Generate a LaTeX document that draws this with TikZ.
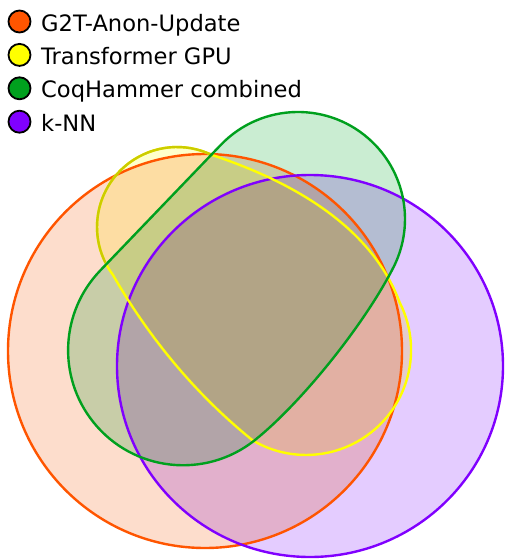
\documentclass[tikz,border=0pt]{standalone}
\usepackage{fontspec}
\setmainfont{DejaVu Sans}
\definecolor{cO}{RGB}{255,85,0}
\definecolor{cY}{RGB}{255,255,0}
\definecolor{cYd}{RGB}{204,204,0}
\definecolor{cG}{RGB}{0,160,30}
\definecolor{cP}{RGB}{128,0,255}
\definecolor{tO}{RGB}{253,221,204}
\definecolor{tY}{RGB}{255,255,204}
\definecolor{tG}{RGB}{202,237,210}
\definecolor{tP}{RGB}{228,204,255}
\tikzset{
  opath/.style={insert path={(205,351) circle[radius=197]}},
  ppath/.style={insert path={(310,366) ellipse[x radius=193, y radius=191]}},
  ypath/.style={insert path={(212,155) .. controls (288.0,180.1) and (370.7,224.3) .. (399.6,302.3)
     arc[start angle=333, end angle=480.5, radius=105]
     .. controls (195.8,394.5) and (149.2,338.1) .. (112.8,274.7)
     arc[start angle=143.4, end angle=295.9, radius=80] -- cycle}},
  gpath/.style={insert path={(220.9,144.8)
     arc[start angle=223.9, end angle=388.2, radius=107]
     .. controls (362.3,327.3) and (300.3,403.7) .. (255,440)
     arc[start angle=51.3, end angle=223.9, radius=115] -- cycle}},
  setline/.style={line width=2.4pt},
  legdot/.style={draw=black, line width=1.8pt},
  legtext/.style={anchor=base west, inner sep=0pt, font=\fontsize{22.6}{26}\selectfont}
}
\begin{document}
\begin{tikzpicture}[x=1pt, y=-1pt]
\useasboundingbox (0,0) rectangle (506,559);
% fills
\fill[tO, blend mode=multiply, opath];
\fill[tY, blend mode=multiply, ypath];
\fill[tG, blend mode=multiply, gpath];
\fill[tP, blend mode=multiply, ppath];
% outlines
\draw[cO, setline, opath];
\draw[cP, setline, ppath];
\draw[cY, setline, ypath];
\begin{scope}
  \clip (0,0) -- (368,0) -- (0,368) -- cycle;
  \draw[cYd, setline, ypath];
\end{scope}
\draw[cG, setline, gpath];
% legend
\fill[cO, legdot] (19.5,21.5) circle[radius=11];
\fill[cY, legdot] (19.5,54.9) circle[radius=11];
\fill[cG, legdot] (19.5,88.3) circle[radius=11];
\fill[cP, legdot] (19.5,121.7) circle[radius=11];
\node[legtext] (l1) at (41,31.2) {G2T-Anon-Update};
\node[legtext] (l2) at (41,64.6) {Transformer GPU};
\node[legtext] (l3) at (41,98) {CoqHammer combined};
\node[legtext] (l4) at (41,131.4) {k-NN};
\end{tikzpicture}
\end{document}
